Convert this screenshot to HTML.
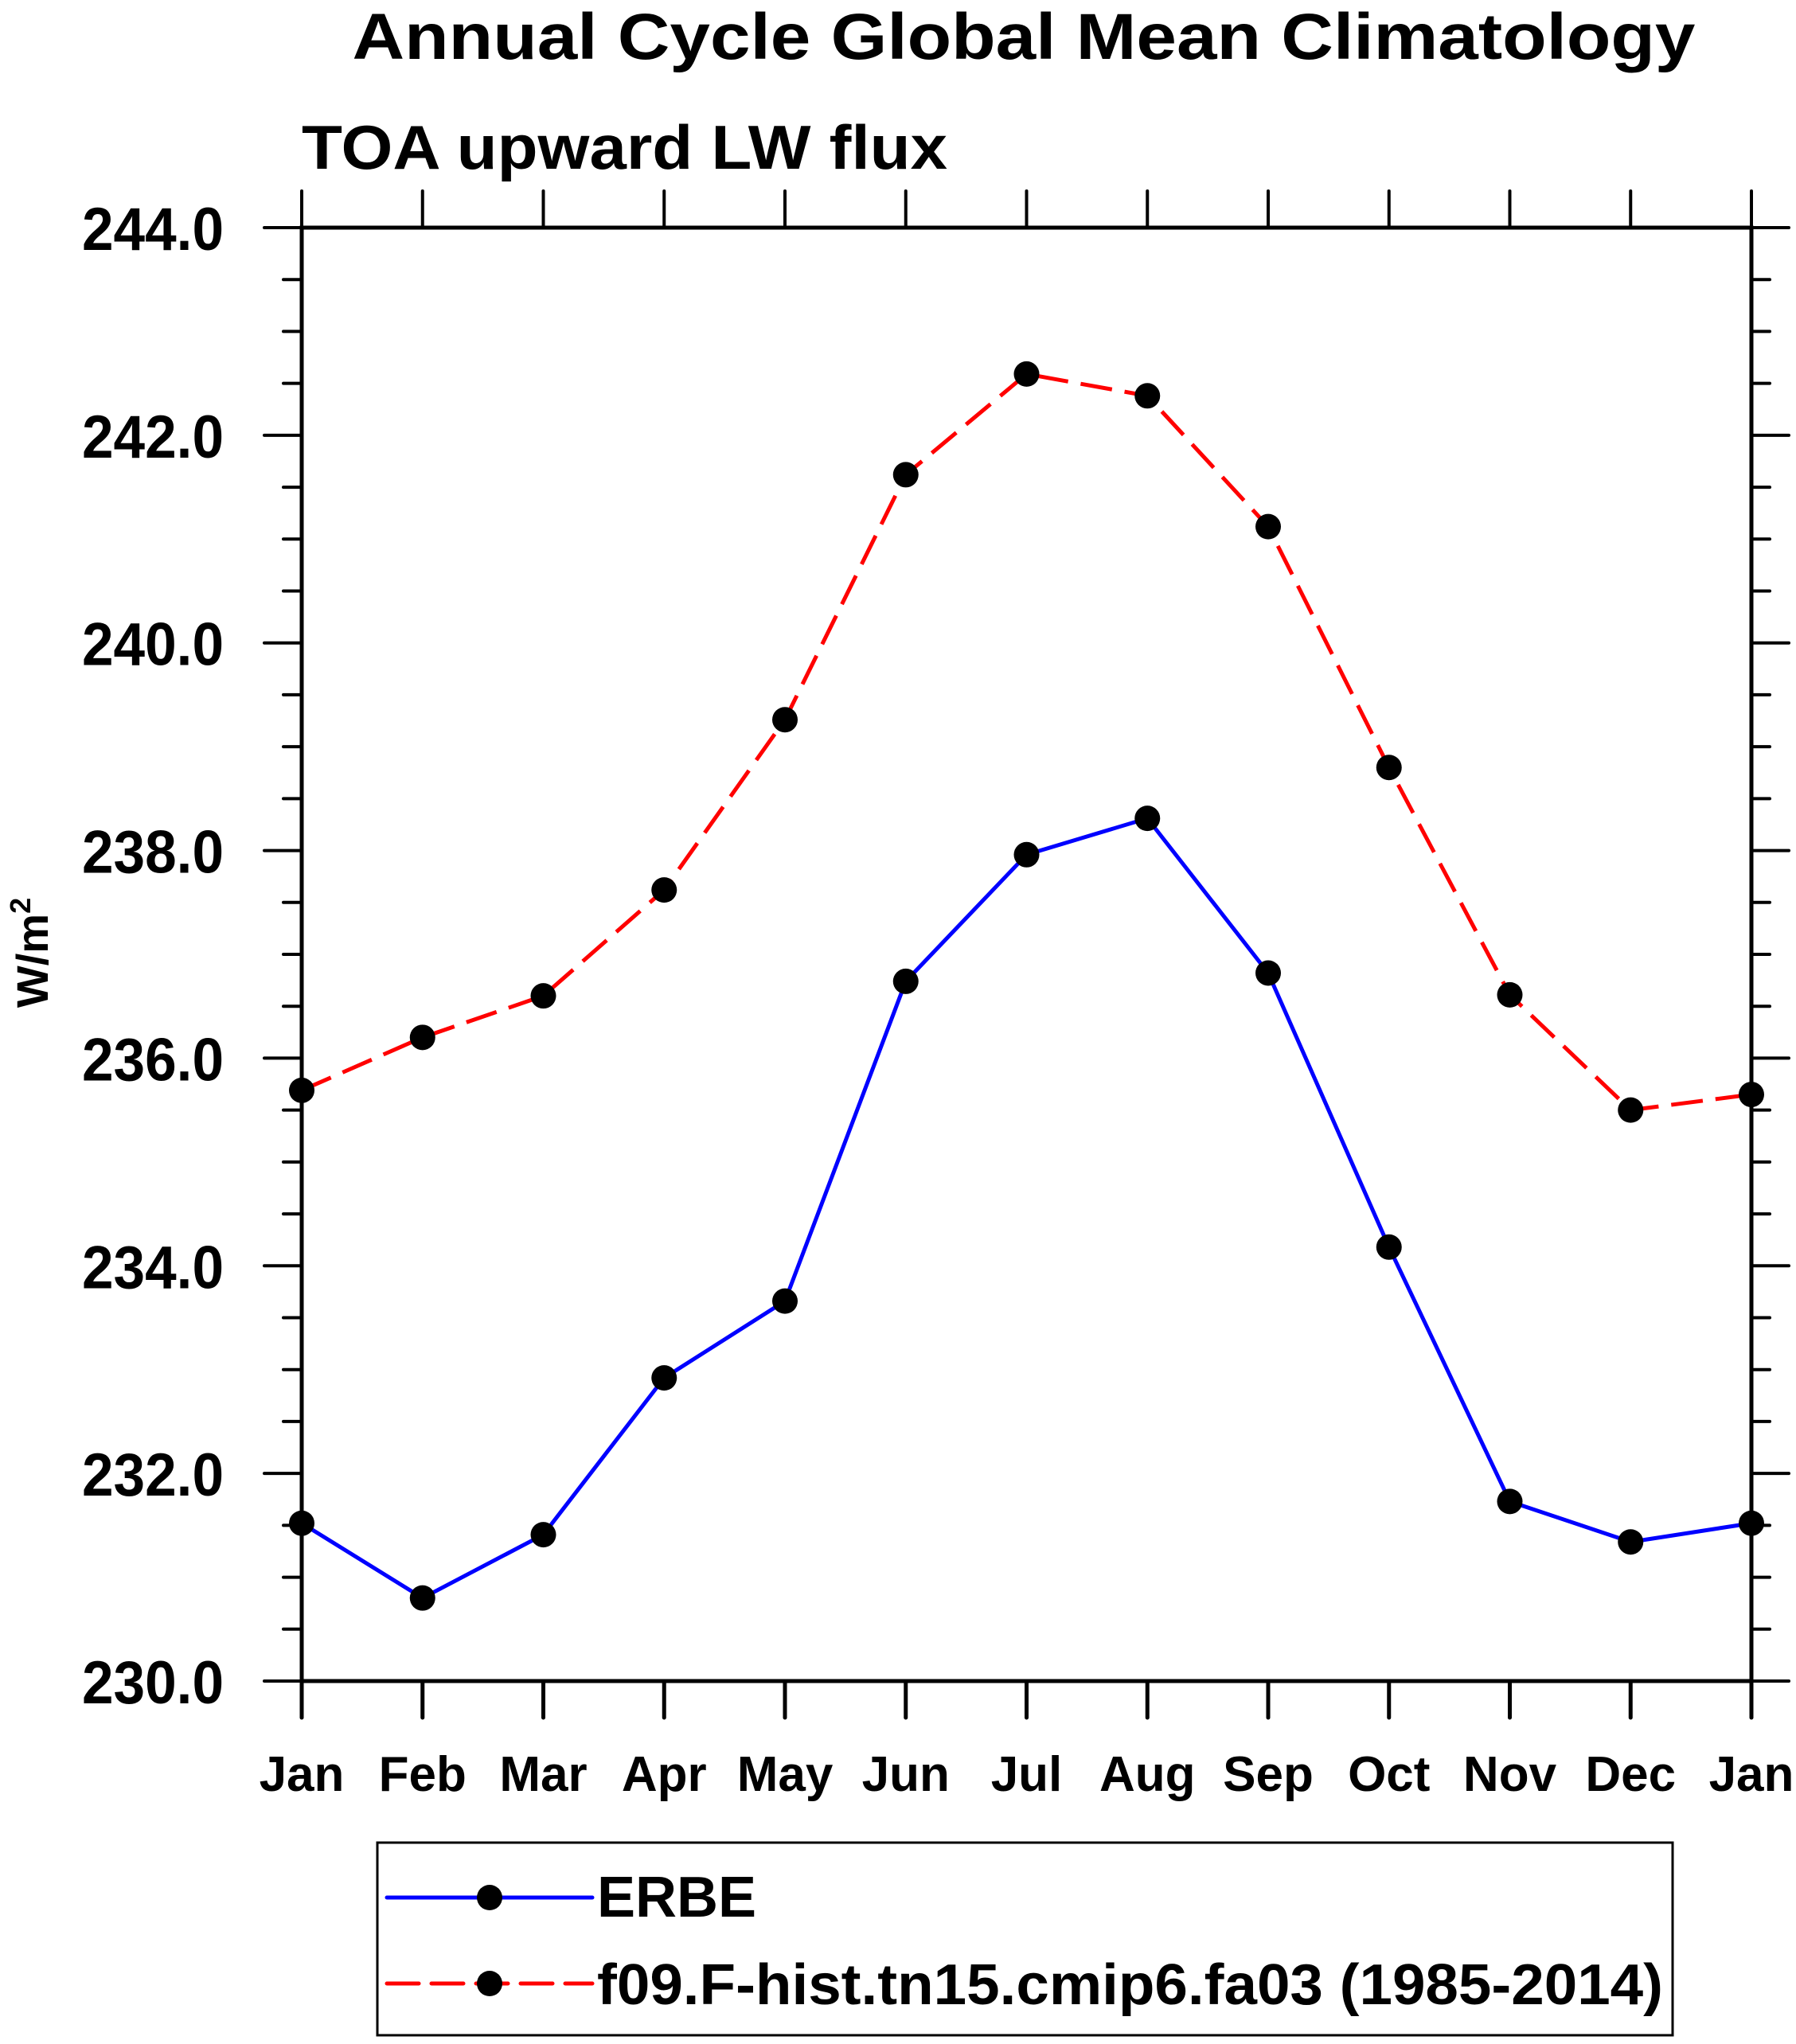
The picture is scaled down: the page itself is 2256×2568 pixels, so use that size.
<!DOCTYPE html>
<html><head><meta charset="utf-8"><style>html,body{margin:0;padding:0;background:#fff}svg{display:block}text{font-family:"Liberation Sans",Arial,sans-serif;font-weight:bold;fill:#000}</style></head>
<body>
<svg id="chart" width="2256" height="2568" viewBox="0 0 2256 2568" xmlns="http://www.w3.org/2000/svg">
<text x="1286" y="74" font-size="82" text-anchor="middle" textLength="1687" lengthAdjust="spacingAndGlyphs">Annual Cycle Global Mean Climatology</text>
<text x="379" y="212" font-size="78" textLength="811" lengthAdjust="spacingAndGlyphs">TOA upward LW flux</text>
<g id="axes"></g>
<g id="series"></g>
<text transform="translate(60,1197) rotate(-90)" font-size="56" text-anchor="middle">W/m<tspan dy="-22" font-size="36">2</tspan></text>
<g id="legend">
<rect x="474" y="2315" width="1627" height="242" fill="none" stroke="#000" stroke-width="3"/>
<g>
<line x1="486" y1="2384" x2="744" y2="2384" stroke="#0000ff" stroke-width="5" stroke-linecap="round"/>
<circle cx="615" cy="2384" r="16" fill="#000"/>
<text x="750" y="2408" font-size="72">ERBE</text>
</g>
<g>
<line x1="486" y1="2492" x2="744" y2="2492" stroke="#ff0000" stroke-width="5" stroke-dasharray="40,16" stroke-linecap="round"/>
<circle cx="615" cy="2492" r="16" fill="#000"/>
<text x="750" y="2518" font-size="72" textLength="1339" lengthAdjust="spacingAndGlyphs">f09.F-hist.tn15.cmip6.fa03 (1985-2014)</text>
</g>
</g>
</svg>
<script>
const months = ["Jan","Feb","Mar","Apr","May","Jun","Jul","Aug","Sep","Oct","Nov","Dec","Jan"];
const erbeValues = [231.52,230.80,231.41,232.92,233.66,236.74,237.96,238.31,236.82,234.18,231.73,231.34,231.52];
const modelValues = [235.69,236.20,236.60,237.62,239.26,241.62,242.59,242.38,241.12,238.80,236.61,235.50,235.65];
const yTicks = [230,232,234,236,238,240,242,244];
const yTickLabels = ["230.0","232.0","234.0","236.0","238.0","240.0","242.0","244.0"];

const NS="http://www.w3.org/2000/svg";
const L=379,R=2200,T=286,B=2112,YMIN=230,YMAX=244;
const xs=i=>L+(R-L)*i/(months.length-1);
const ys=v=>B-(B-T)*(v-YMIN)/(YMAX-YMIN);
function mk(tag,attrs,parent){const e=document.createElementNS(NS,tag);for(const k in attrs)e.setAttribute(k,attrs[k]);parent.appendChild(e);return e;}
const ax=document.getElementById('axes');
const frame=mk('rect',{x:L,y:T,width:R-L,height:B-T,fill:'none',stroke:'#000','stroke-width':5},ax);


months.forEach((m,i)=>{
  const x=xs(i);
  mk('line',{x1:x,y1:B,x2:x,y2:B+46,stroke:'#000','stroke-width':5,'stroke-linecap':'round'},ax);
  mk('line',{x1:x,y1:T,x2:x,y2:T-46,stroke:'#000','stroke-width':4,'stroke-linecap':'round'},ax);
  const t=mk('text',{x:x,y:2250,'font-size':62,'text-anchor':'middle'},ax);
  t.textContent=m;
  
  
});
for(let v=YMIN;v<=YMAX+1e-9;v+=0.5){
  const y=ys(v);const major=Math.abs(v/2-Math.round(v/2))<1e-9;
  const len=major?47:23;
  mk('line',{x1:L-len,y1:y,x2:L,y2:y,stroke:'#000','stroke-width':4,'stroke-linecap':'round'},ax);
  mk('line',{x1:R,y1:y,x2:R+len,y2:y,stroke:'#000','stroke-width':4,'stroke-linecap':'round'},ax);
}
yTicks.forEach((v,i)=>{
  const t=mk('text',{x:281,y:ys(v)+28,'font-size':76,'text-anchor':'end',textLength:178,lengthAdjust:'spacingAndGlyphs'},ax);
  t.textContent=yTickLabels[i];
  
  
});
const sg=document.getElementById('series');
function drawSeries(vals,color,dash,name){
  const g=mk('g',{},sg);
  
  
  const pts=vals.map((v,i)=>xs(i)+','+ys(v)).join(' ');
  const attrs={points:pts,fill:'none',stroke:color,'stroke-width':5,'stroke-linejoin':'round'};
  if(dash)attrs['stroke-dasharray']=dash;
  const pl=mk('polyline',attrs,g);
  
  
  vals.forEach((v,i)=>{
    const c=mk('circle',{cx:xs(i),cy:ys(v),r:16,fill:'#000'},g);
    
    
  });
}
drawSeries(modelValues,'#ff0000','40,16','model-series');
drawSeries(erbeValues,'#0000ff',null,'erbe-series');
</script>
</body></html>
